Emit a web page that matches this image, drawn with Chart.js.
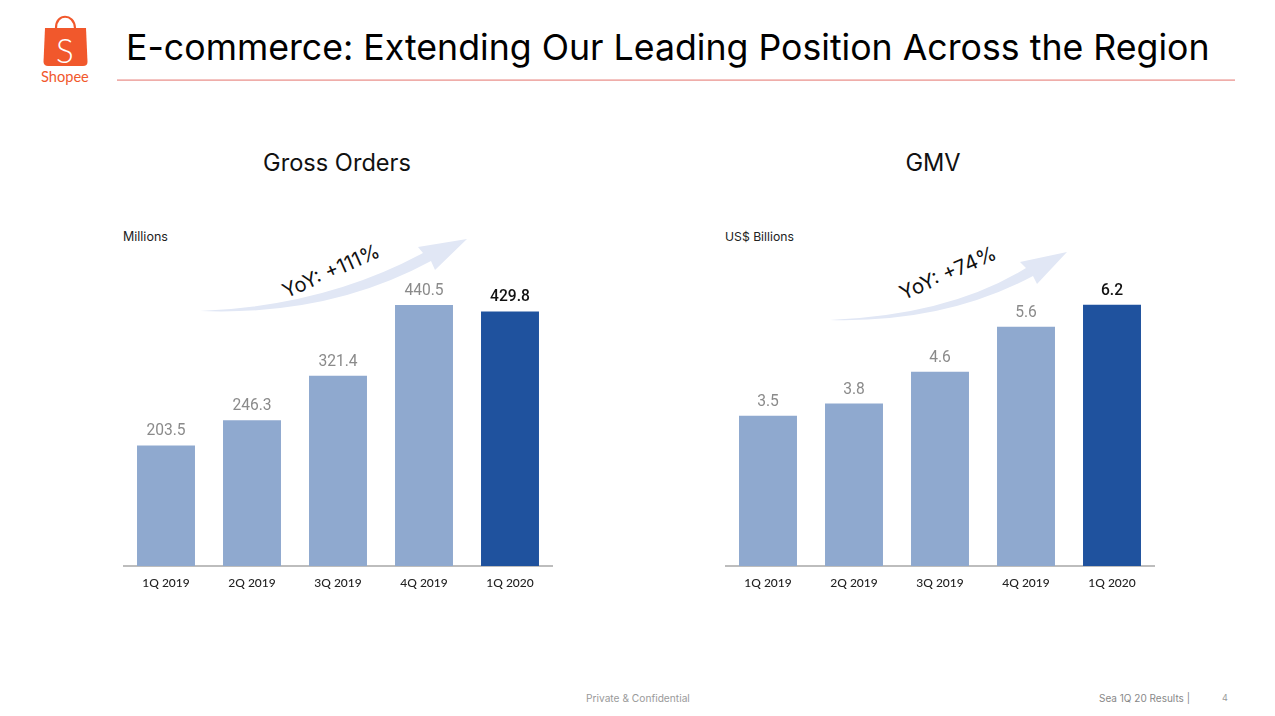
<!DOCTYPE html>
<html><head><meta charset="utf-8">
<script src="https://cdn.jsdelivr.net/npm/chart.js@4"></script>
<style>
html,body{margin:0;padding:0;background:#fff;width:1275px;height:716px;overflow:hidden;font-family:Inter,Roboto,sans-serif}
.t{position:absolute;white-space:nowrap;line-height:1}
canvas{position:absolute}
#ov{position:absolute;left:0;top:0}
</style></head><body>
<svg id="ov" width="1275" height="716">
<path d="M45 28 H86 L87.5 62 Q87.5 66 83 66 H48 Q44 66 43.5 62 Z" fill="#F1582C"/>
<path d="M56 28 C56 13 74 13 75 28" fill="none" stroke="#F1582C" stroke-width="2.2"/>
<rect x="117" y="79.5" width="1118" height="1.2" fill="#E98A85"/>
<path d="M200 311 Q325 306 423 253 L418 247 L467 239 L435 270 L431 261 Q330 316 200 311 Z" fill="#E1E7F5"/>
<path d="M830 320 Q950 315 1026 268 L1020 262 L1067 252 L1037 284 L1033 276 Q945 323 830 320 Z" fill="#E1E7F5"/>
</svg>
<div class="t" style="left:56px;top:30px;font:300 33px Lato;color:#fff">S</div>
<div class="t" style="left:41px;top:68px;font:14.6px Lato;color:#F1582C">Shopee</div>
<div class="t" style="left:126px;top:30px;font-size:35.7px;color:#000;font-family:Inter">E-commerce: Extending Our Leading Position Across the Region</div>
<div class="t" style="left:337px;top:151px;transform:translateX(-50%);font-size:23.6px;color:#111">Gross Orders</div>
<div class="t" style="left:933px;top:151px;transform:translateX(-50%);font-size:23.6px;color:#111">GMV</div>
<div class="t" style="left:123px;top:231px;font-size:12.5px;color:#222">Millions</div>
<div class="t" style="left:725px;top:231px;font-size:12.2px;color:#222">US$ Billions</div>
<div class="t" style="left:331px;top:261px;transform:translate(-50%,0) rotate(-24deg);font-size:20.2px;font-weight:400;color:#111">YoY: +111%</div>
<div class="t" style="left:948px;top:263px;transform:translate(-50%,0) rotate(-24deg);font-size:20.4px;font-weight:400;color:#111">YoY: +74%</div>
<div class="t" style="left:586px;top:693px;font-size:10.2px;color:#9a9a9a">Private &amp; Confidential</div>
<div class="t" style="left:1099px;top:693px;font-size:10px;color:#888">Sea 1Q 20 Results |</div>
<div class="t" style="left:1222px;top:693px;font-size:9px;color:#999">4</div>
<canvas id="c1" style="left:123px;top:200px"></canvas>
<canvas id="c2" style="left:725px;top:200px"></canvas>
<script>
const categories = ["1Q 2019","2Q 2019","3Q 2019","4Q 2019","1Q 2020"];
const grossOrders = [203.5,246.3,321.4,440.5,429.8];
const gmv = [3.54,3.83,4.58,5.64,6.16];
const barColors = ["#8FA9CF","#8FA9CF","#8FA9CF","#8FA9CF","#1F529E"];
const labelColors = ["#8a8a8a","#8a8a8a","#8a8a8a","#8a8a8a","#111111"];

const valueLabels = {
  id:"valueLabels",
  afterDatasetsDraw(chart){
    const ctx=chart.ctx, meta=chart.getDatasetMeta(0), ds=chart.data.datasets[0];
    ctx.save();
    ctx.textAlign="center"; ctx.textBaseline="alphabetic";
    meta.data.forEach((b,i)=>{
      ctx.font=(i===4?"500 ":"400 ")+"15.6px Roboto";
      ctx.fillStyle=labelColors[i];
      ctx.fillText(ds.data[i].toFixed(1),b.x,b.y-10);
    });
    ctx.restore();
  }
};
function make(id,w,data,yMax){
  const el=document.getElementById(id);
  el.width=w; el.height=400; el.style.width=w+"px"; el.style.height="400px";
  new Chart(el,{
    type:"bar",
    data:{labels:categories,datasets:[{data,backgroundColor:barColors,barPercentage:1,categoryPercentage:0.674,borderWidth:0}]},
    options:{
      responsive:false,animation:false,devicePixelRatio:1,
      layout:{padding:0},
      plugins:{legend:{display:false},tooltip:{enabled:false}},
      scales:{
        y:{display:false,min:0,max:yMax},
        x:{
          afterFit(s){s.height=34},
          grid:{display:false,drawTicks:false},
          border:{color:"#BDBDBD",width:2},
          ticks:{color:"#222",font:{family:"Lato",size:12,weight:"500"},padding:10,maxRotation:0}
        }
      }
    },
    plugins:[valueLabels]
  });
}
make("c1",430,grossOrders,618);
make("c2",430,gmv,8.63);
</script>
</body></html>
